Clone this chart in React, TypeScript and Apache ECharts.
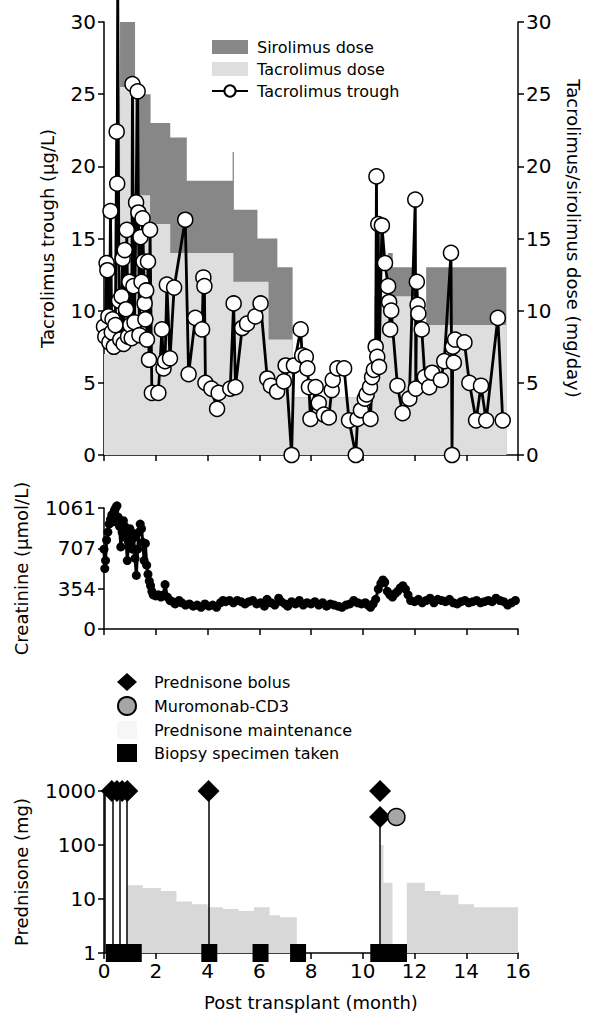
import React, { useEffect, useRef } from "react";
import * as echarts from "echarts";

const FONT = "DejaVu Sans";

// Tacrolimus trough (µg/L) by month post transplant
const troughMonths = [
  0.0, 0.05, 0.1, 0.13, 0.17, 0.21, 0.25, 0.3, 0.33, 0.38, 0.44, 0.49, 0.51, 0.53, 0.58, 0.63, 0.68, 0.72,
  0.76, 0.8, 0.85, 0.88, 0.93, 0.98, 1.02, 1.07, 1.1, 1.14, 1.18, 1.24, 1.3, 1.33, 1.37, 1.41, 1.45, 1.49,
  1.53, 1.57, 1.6, 1.63, 1.66, 1.7, 1.74, 1.78, 1.85, 2.1, 2.24, 2.3, 2.36, 2.43, 2.55, 2.71, 3.14, 3.27,
  3.53, 3.79, 3.84, 3.88, 3.92, 4.15, 4.37, 4.43, 4.88, 5.01, 5.08, 5.34, 5.53, 5.85, 6.05, 6.31, 6.45,
  6.69, 6.95, 7.02, 7.25, 7.34, 7.6, 7.66, 7.8, 7.86, 7.92, 7.98, 8.18, 8.3, 8.5, 8.69, 8.8, 8.84, 9.02,
  9.28, 9.47, 9.73, 9.8, 9.93, 10.08, 10.15, 10.28, 10.3, 10.36, 10.43, 10.5, 10.53, 10.56, 10.6, 10.63,
  10.74, 10.86, 10.98, 11.02, 11.06, 11.1, 11.34, 11.54, 11.8, 12.03, 12.05, 12.09, 12.12, 12.15, 12.28,
  12.4, 12.57, 12.68, 13.02, 13.15, 13.41, 13.45, 13.48, 13.52, 13.57, 13.93, 14.12, 14.38, 14.57, 14.77,
  15.22, 15.41,
];
const troughValues = [
  8.9, 8.2, 13.3, 12.8, 9.6, 7.8, 16.9, 8.5, 9.4, 7.5, 9.0, 22.4, 18.8, 33.0, 10.7, 8.0, 11.0, 13.6,
  7.7, 14.2, 10.1, 15.6, 8.2, 12.0, 9.0, 8.1, 25.7, 11.7, 9.2, 17.5, 25.2, 16.8, 8.3, 15.1, 12.0, 16.4,
  13.4, 10.5, 9.4, 11.4, 8.0, 13.4, 6.6, 15.6, 4.3, 4.3, 8.7, 6.0, 6.5, 11.8, 6.7, 11.6, 16.3, 5.6,
  9.5, 8.7, 12.3, 11.7, 5.0, 4.6, 3.2, 4.3, 4.6, 10.5, 4.7, 8.8, 9.1, 9.6, 10.5, 5.3, 4.8,
  4.4, 5.1, 6.2, 0, 6.2, 8.7, 6.9, 6.8, 6.0, 4.7, 2.5, 4.7, 3.6, 2.8, 2.6, 4.5, 5.2, 6.0,
  6.0, 2.4, 0, 2.5, 3.1, 3.9, 4.2, 4.7, 2.5, 5.4, 5.9, 7.5, 19.3, 6.8, 16.0, 6.1,
  15.9, 13.3, 11.7, 10.6, 8.7, 10.0, 4.8, 2.9, 3.9, 17.7, 4.6, 12.0, 10.4, 9.8, 8.7,
  5.4, 4.7, 5.7, 5.2, 6.5, 14.0, 0, 7.5, 6.4, 8.0, 7.8, 5.0, 2.4, 4.8, 2.4,
  9.5, 2.4,
];

// Dose step functions (mg/day): level i holds from break i to break i+1
const tacroDoseBreaks = [0, 0.62, 1.2, 1.78, 2.56, 5.0, 6.36, 7.29, 10.45, 12.05, 15.55];
const tacroDoseLevels = [7, 25.5, 18, 16, 14, 12, 8, 4, 11, 9];
const totalDoseBreaks = [0, 0.62, 1.2, 1.8, 2.56, 3.2, 4.97, 5.02, 5.93, 6.7, 7.29, 10.45, 10.97, 11.16, 12.05, 12.45, 15.55];
const totalDoseLevels = [7, 30, 25, 23, 22, 19, 21, 17, 15, 13, 4, 11, 14, 13, 9, 13];

// Creatinine (µmol/L)
const creatMonths = [
  0.0, 0.03, 0.06, 0.1, 0.15, 0.2, 0.25, 0.3, 0.35, 0.4, 0.45, 0.5, 0.55, 0.6, 0.65, 0.7, 0.75, 0.8, 0.85,
  0.9, 0.95, 1.0, 1.05, 1.1, 1.15, 1.2, 1.25, 1.3, 1.35, 1.4, 1.45, 1.5, 1.55, 1.6, 1.65, 1.7, 1.75, 1.8,
  1.85, 1.9, 2.0, 2.1, 2.2, 2.3, 2.36, 2.45, 2.55, 2.65, 2.75, 2.9, 3.0, 3.15, 3.3, 3.45, 3.6, 3.75, 3.9,
  4.05, 4.2, 4.35, 4.5, 4.6, 4.7, 4.85, 5.0, 5.15, 5.3, 5.45, 5.6, 5.75, 5.9, 6.05, 6.2, 6.3, 6.45, 6.6,
  6.75, 6.85, 7.0, 7.1, 7.25, 7.4, 7.55, 7.7, 7.85, 8.0, 8.15, 8.3, 8.45, 8.6, 8.75, 8.9, 9.05, 9.2, 9.35,
  9.5, 9.65, 9.8, 9.95, 10.1, 10.2, 10.3, 10.4, 10.5, 10.6, 10.7, 10.78, 10.85, 10.95, 11.05, 11.15, 11.25,
  11.35, 11.45, 11.55, 11.65, 11.75, 11.85, 12.0, 12.15, 12.3, 12.45, 12.6, 12.75, 12.9, 13.05, 13.2,
  13.35, 13.5, 13.65, 13.8, 13.95, 14.1, 14.25, 14.4, 14.55, 14.7, 14.85, 15.0, 15.15, 15.3, 15.45, 15.6,
  15.75, 15.9,
];
const creatValues = [
  700, 530, 600, 780, 850, 920, 960, 1000, 940, 1040, 1061, 1080, 980, 900, 720, 850, 950, 900, 800,
  600, 760, 880, 850, 700, 800, 620, 470, 700, 850, 920, 880, 760, 600, 750, 560, 480, 420, 380,
  330, 300, 290, 300, 280, 300, 390, 280, 250, 240, 220, 250, 230, 210, 220, 200, 210, 190, 220,
  200, 210, 190, 230, 250, 240, 250, 230, 250, 240, 220, 240, 250, 220, 230, 200, 260, 230, 210,
  270, 240, 220, 200, 240, 220, 250, 210, 230, 220, 240, 210, 230, 200, 220, 210, 200, 190, 210,
  220, 250, 230, 220, 230, 210, 190, 220, 260, 350, 400, 430, 410, 330, 300, 280, 310,
  330, 360, 380, 350, 300, 250, 240, 260, 230, 250, 270, 230, 260, 250, 240,
  260, 230, 220, 240, 250, 230, 240, 250, 230, 240, 250, 240, 270, 250, 240, 210,
  230, 250,
];
const creatTicks = [0, 354, 707, 1061];

// Prednisone (mg)
const bolusMonths = [0.3, 0.5, 0.7, 0.9, 4.04, 10.67, 10.67];
const bolusDoses = [1000, 1000, 1000, 1000, 1000, 1000, 330];
const stemMonths = [0.04, 0.32, 0.59, 0.88, 4.04, 10.67];
const stemTops = [1000, 1000, 1000, 1000, 1000, 330];
const muroMonths = [11.3];
const muroDoses = [330];
const biopsyMonths = [0.38, 0.65, 0.9, 1.15, 4.07, 6.05, 7.5, 10.6, 10.85, 11.1, 11.4];
const maintBreaks = [0.9, 1.5, 2.2, 2.8, 3.4, 4.0, 4.6, 5.2, 5.8, 6.4, 6.8, 7.45, 10.7, 10.8, 11.15, 11.7, 12.4, 13.0, 13.7, 14.3, 16.0];
const maintLevels = [18, 16, 14, 9, 8, 7, 6.5, 6, 7, 5, 4.6, 1, 100, 20, 1, 20, 14, 12, 8, 7];

function steps(breaks: number[], levels: number[]) {
  const pts: number[][] = [];
  for (let i = 0; i < levels.length; i++) {
    pts.push([breaks[i], levels[i]], [breaks[i + 1], levels[i]]);
  }
  return pts;
}

const zip = (a: number[], b: number[]) => a.map((x, i) => [x, b[i]]);

const axisLine = { show: true, onZero: false, lineStyle: { color: "#000", width: 1.5 } };
const axisTick = { show: true, inside: false, length: 6, lineStyle: { color: "#000", width: 1.5 } };
const plain = (v: number) => String(Math.round(v * 1000) / 1000);
const labelStyle = { color: "#000", fontFamily: FONT, fontSize: 20, margin: 8, formatter: plain };
const nameStyle = { color: "#000", fontFamily: FONT, fontSize: 18 };

const LEFT = 104;
const WIDTH = 414;

export default function App() {
  const ref = useRef<HTMLDivElement>(null);
  useEffect(() => {
    document.body.style.margin = "0";
    const chart = echarts.init(ref.current!, null, { renderer: "svg" });
    const xBase = (gi: number) => ({
      gridIndex: gi,
      type: "value",
      min: 0,
      max: 16,
      interval: 2,
      axisLine,
      axisTick,
      splitLine: { show: false },
    });
    chart.setOption({
      animation: false,
      backgroundColor: "#fff",
      textStyle: { fontFamily: FONT },
      grid: [
        { left: LEFT, width: WIDTH, top: 22, height: 433 },
        { left: LEFT, width: WIDTH, top: 508, height: 121 },
        { left: LEFT, width: WIDTH, top: 791, height: 162 },
      ],
      xAxis: [
        { ...xBase(0), axisLabel: { show: false } },
        { ...xBase(1), axisLabel: { show: false } },
        {
          ...xBase(2),
          axisLabel: { ...labelStyle },
          name: "Post transplant (month)",
          nameLocation: "middle",
          nameGap: 40,
          nameTextStyle: nameStyle,
        },
      ],
      yAxis: [
        {
          gridIndex: 0,
          type: "value",
          min: 0,
          max: 30,
          interval: 5,
          position: "left",
          axisLine,
          axisTick,
          axisLabel: labelStyle,
          splitLine: { show: false },
          name: "Tacrolimus trough (μg/L)",
          nameLocation: "middle",
          nameGap: 48,
          nameTextStyle: nameStyle,
        },
        {
          gridIndex: 0,
          type: "value",
          min: 0,
          max: 30,
          interval: 5,
          position: "right",
          axisLine,
          axisTick,
          axisLabel: labelStyle,
          splitLine: { show: false },
          name: "Tacrolimus/sirolimus dose (mg/day)",
          nameLocation: "middle",
          nameRotate: -90,
          nameGap: 46,
          nameTextStyle: nameStyle,
        },
        {
          gridIndex: 1,
          type: "value",
          min: 0,
          max: 1061,
          axisLine,
          axisTick: { ...axisTick, customValues: creatTicks },
          axisLabel: { ...labelStyle, customValues: creatTicks },
          splitLine: { show: false },
          name: "Creatinine (μmol/L)",
          nameLocation: "middle",
          nameGap: 74,
          nameTextStyle: nameStyle,
        },
        {
          gridIndex: 2,
          type: "log",
          logBase: 10,
          min: 1,
          max: 1000,
          axisLine,
          axisTick,
          minorTick: { show: false },
          axisLabel: labelStyle,
          splitLine: { show: false },
          name: "Prednisone (mg)",
          nameLocation: "middle",
          nameGap: 74,
          nameTextStyle: nameStyle,
        },
      ],
      legend: [
        {
          data: [
            { name: "Sirolimus dose", icon: "rect" },
            { name: "Tacrolimus dose", icon: "rect" },
            { name: "Tacrolimus trough" },
          ],
          orient: "vertical",
          left: 206,
          top: 34,
          itemWidth: 36,
          itemHeight: 14,
          itemGap: 6,
          selectedMode: false,
          textStyle: { color: "#000", fontFamily: FONT, fontSize: 16, padding: [0, 0, 0, 4] },
        },
        {
          data: [
            { name: "Prednisone bolus", icon: "diamond" },
            { name: "Muromonab-CD3", icon: "circle" },
            { name: "Prednisone maintenance", icon: "rect", itemStyle: { color: "#f6f6f6" } },
            { name: "Biopsy specimen taken", icon: "rect" },
          ],
          orient: "vertical",
          left: 112,
          top: 668,
          itemWidth: 20,
          itemHeight: 18,
          itemGap: 5,
          selectedMode: false,
          textStyle: { color: "#000", fontFamily: FONT, fontSize: 16, padding: [0, 0, 0, 12] },
        },
      ],
      series: [
        {
          name: "Sirolimus dose",
          type: "line",
          xAxisIndex: 0,
          yAxisIndex: 1,
          data: steps(totalDoseBreaks, totalDoseLevels),
          symbol: "none",
          lineStyle: { width: 0 },
          itemStyle: { color: "#878787" },
          areaStyle: { color: "#878787", opacity: 1 },
          z: 1,
        },
        {
          name: "Tacrolimus dose",
          type: "line",
          xAxisIndex: 0,
          yAxisIndex: 1,
          data: steps(tacroDoseBreaks, tacroDoseLevels),
          symbol: "none",
          lineStyle: { width: 0 },
          itemStyle: { color: "#dedede" },
          areaStyle: { color: "#dedede", opacity: 1 },
          z: 2,
        },
        {
          name: "Tacrolimus trough",
          type: "line",
          xAxisIndex: 0,
          yAxisIndex: 0,
          data: zip(troughMonths, troughValues),
          symbol: "circle",
          symbolSize: 15,
          showAllSymbol: true,
          clip: false,
          lineStyle: { color: "#000", width: 2.8 },
          itemStyle: { color: "#fff", borderColor: "#000", borderWidth: 1.5 },
          z: 5,
        },
        {
          name: "Creatinine",
          type: "line",
          xAxisIndex: 1,
          yAxisIndex: 2,
          data: zip(creatMonths, creatValues),
          symbol: "circle",
          symbolSize: 9,
          showAllSymbol: true,
          clip: false,
          lineStyle: { color: "#000", width: 3 },
          itemStyle: { color: "#000" },
        },
        {
          name: "Prednisone maintenance",
          type: "line",
          xAxisIndex: 2,
          yAxisIndex: 3,
          data: steps(maintBreaks, maintLevels),
          symbol: "none",
          lineStyle: { width: 0 },
          itemStyle: { color: "#d8d8d8" },
          areaStyle: { color: "#d8d8d8", opacity: 1, origin: "start" },
          z: 1,
        },
        {
          name: "Prednisone bolus",
          type: "scatter",
          xAxisIndex: 2,
          yAxisIndex: 3,
          data: zip(bolusMonths, bolusDoses),
          symbol: "diamond",
          symbolSize: 22,
          clip: false,
          itemStyle: { color: "#000", opacity: 1 },
          z: 4,
          markLine: {
            silent: true,
            symbol: ["none", "none"],
            label: { show: false },
            lineStyle: { color: "#000", width: 1.5, type: "solid", opacity: 1 },
            data: stemMonths.map((m, i) => [{ coord: [m, 1] }, { coord: [m, stemTops[i]] }]),
          },
        },
        {
          name: "Muromonab-CD3",
          type: "scatter",
          xAxisIndex: 2,
          yAxisIndex: 3,
          data: zip(muroMonths, muroDoses),
          symbol: "circle",
          symbolSize: 17,
          itemStyle: { color: "#a6a6a6", borderColor: "#000", borderWidth: 1.5, opacity: 1 },
          z: 4,
        },
        {
          name: "Biopsy specimen taken",
          type: "scatter",
          xAxisIndex: 2,
          yAxisIndex: 3,
          data: biopsyMonths.map((m) => [m, 1]),
          symbol: "rect",
          symbolSize: [16, 18],
          clip: false,
          itemStyle: { color: "#000", opacity: 1 },
          z: 5,
        },
      ],
    });
    return () => chart.dispose();
  }, []);
  return <div ref={ref} style={{ width: 600, height: 1024 }} />;
}
